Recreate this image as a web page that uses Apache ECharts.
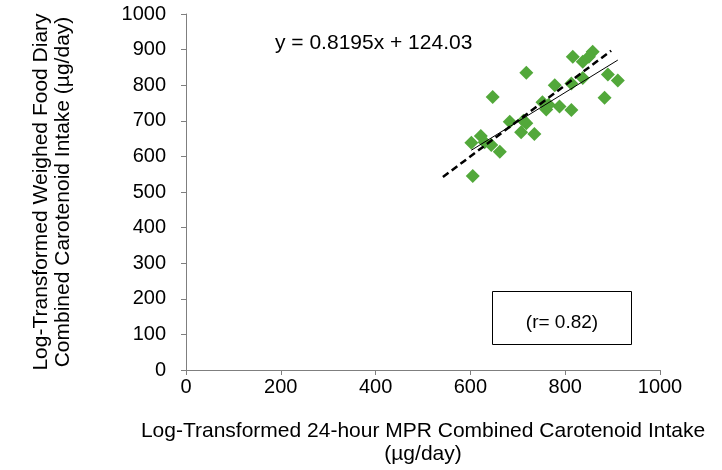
<!DOCTYPE html>
<html>
<head>
<meta charset="utf-8">
<script src="https://cdn.jsdelivr.net/npm/echarts@6/dist/echarts.min.js"></script>
<style>html,body{margin:0;padding:0;background:#fff}#c{width:722px;height:470px}</style>
</head>
<body>
<div id="c"></div>
<script>
var xValues = [605, 602, 622, 647, 644, 662, 683, 707, 718, 735, 718, 752, 760, 778, 788, 813, 813, 816, 837, 858, 850, 837, 883, 890, 911, 712, 765, 630];
var yValues = [545, 638, 657, 767, 632, 613, 697, 668, 693, 663, 835, 752, 732, 800, 740, 730, 805, 880, 866, 894, 880, 820, 765, 830, 813, 700, 745, 640];
var slope = 0.8195, intercept = 124.03;
var fitRange = [602, 911];
var identityRange = [542, 897];
var xTicks = [0, 200, 400, 600, 800, 1000];
var yTicks = [0, 100, 200, 300, 400, 500, 600, 700, 800, 900, 1000];

var points = xValues.map(function (x, i) { return [x, yValues[i]]; });
var fitLine = fitRange.map(function (x) { return [x, slope * x + intercept]; });
var idLine = identityRange.map(function (x) { return [x, x]; });

var font = 'Liberation Sans, Arial, sans-serif';
var chart = echarts.init(document.getElementById('c'));
chart.setOption({
  animation: false,
  grid: { left: 186, right: 62, top: 14, bottom: 100, containLabel: false, outerBoundsMode: 'none' },
  xAxis: {
    type: 'value', min: xTicks[0], max: xTicks[xTicks.length - 1], interval: xTicks[1] - xTicks[0],
    splitLine: { show: false },
    axisLine: { lineStyle: { color: '#7f7f7f' } },
    axisTick: { lineStyle: { color: '#7f7f7f' }, length: 5 },
    axisLabel: { color: '#000', fontFamily: font, fontSize: 20, margin: 7, formatter: function (v) { return String(v); } },
    name: 'Log-Transformed 24-hour MPR Combined Carotenoid Intake\n(\u00b5g/day)',
    nameLocation: 'middle', nameGap: 50,
    nameTextStyle: { color: '#000', fontFamily: font, fontSize: 21, lineHeight: 23 }
  },
  yAxis: {
    type: 'value', min: yTicks[0], max: yTicks[yTicks.length - 1], interval: yTicks[1] - yTicks[0],
    splitLine: { show: false },
    axisLine: { show: true, lineStyle: { color: '#7f7f7f' } },
    axisTick: { show: true, lineStyle: { color: '#7f7f7f' }, length: 5 },
    axisLabel: { color: '#000', fontFamily: font, fontSize: 20, margin: 20, formatter: function (v) { return String(v); } },
    name: 'Log-Transformed Weighed Food Diary\nCombined Carotenoid Intake (\u00b5g/day)',
    nameLocation: 'middle', nameGap: 112, nameRotate: 90,
    nameTextStyle: { color: '#000', fontFamily: font, fontSize: 21, lineHeight: 22 }
  },
  series: [
    {
      type: 'scatter', data: points, symbol: 'diamond', symbolSize: 14,
      itemStyle: { color: '#52a83a', opacity: 1 }, z: 2
    },
    {
      type: 'line', data: idLine, symbol: 'none',
      lineStyle: { color: '#000', width: 2.5, type: [7, 4] }, z: 3
    },
    {
      type: 'line', data: fitLine, symbol: 'none',
      lineStyle: { color: '#000', width: 1 }, z: 3
    }
  ],
  graphic: [
    { type: 'text', left: 275, top: 33, style: { text: 'y = 0.8195x + 124.03', font: '21px ' + font, fill: '#000' } },
    { type: 'rect', shape: { x: 492.5, y: 291.5, width: 139, height: 53 }, style: { fill: '#fff', stroke: '#000', lineWidth: 1 } },
    { type: 'text', x: 562, y: 323, style: { text: '(r= 0.82)', font: '19px ' + font, fill: '#000', align: 'center', verticalAlign: 'middle' } }
  ]
});
</script>
</body>
</html>
